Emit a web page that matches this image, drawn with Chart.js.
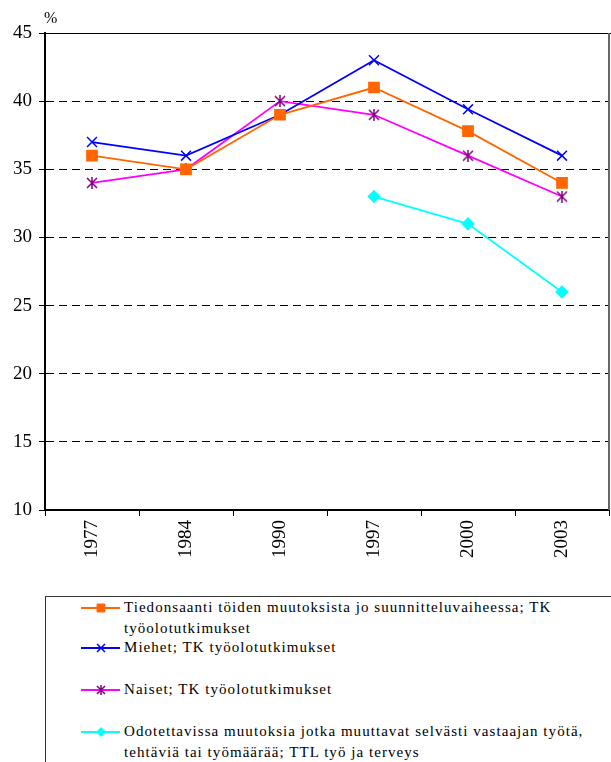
<!DOCTYPE html>
<html>
<head>
<meta charset="utf-8">
<script src="https://cdn.jsdelivr.net/npm/chart.js@4/dist/chart.umd.min.js"></script>
<style>
  body { margin: 0; background: #fff; }
  #wrap { position: relative; width: 611px; height: 762px; overflow: hidden; font-family: 'Liberation Serif', serif; }
  #kuva { position: absolute; left: 0; top: 0; }
  #yksikko { position: absolute; left: 44px; top: 9px; font-family: 'Liberation Serif', serif; font-size: 16px; }
  #selite { position: absolute; left: 45px; top: 596px; width: 580px; height: 200px; border: 1px solid #333; box-sizing: border-box; }
  .rivi { position: absolute; left: 35px; font-family: 'Liberation Serif', serif; font-size: 15px; line-height: 21px; letter-spacing: 1.05px; color: #000; }
  .rivi canvas { position: absolute; left: 0; top: 4px; }
  .rivi span { display: block; margin-left: 43px; white-space: nowrap; }
</style>
</head>
<body>
<div id="wrap">
  <canvas id="kuva" width="611" height="580"></canvas>
  <div id="yksikko">%</div>
  <div id="selite"></div>
</div>
<script>
var vuodet = ['1977', '1984', '1990', '1997', '2000', '2003'];
var tiedonsaanti = [36, 35, 39, 41, 37.8, 34];
var miehet = [37, 36, 39, 43, 39.4, 36];
var naiset = [34, 35, 40, 39, 36, 33];
var odotettavissa = [null, null, null, 33, 31, 26];

var sarjaNimet = [
    'Tiedonsaanti töiden muutoksista jo suunnitteluvaiheessa; TK<br>työolotutkimukset',
    'Miehet; TK työolotutkimukset',
    'Naiset; TK työolotutkimukset',
    'Odotettavissa muutoksia jotka muuttavat selvästi vastaajan työtä,<br>tehtäviä tai työmäärää; TTL työ ja terveys'
];

// tähtimerkki (x + pystyviiva) naisten sarjalle
function tahti(koko) {
    var c = document.createElement('canvas');
    c.width = koko; c.height = koko;
    var g = c.getContext('2d');
    g.strokeStyle = '#800080';
    g.lineWidth = 1.5;
    var m = koko - 1;
    g.beginPath();
    g.moveTo(1, 1); g.lineTo(m, m);
    g.moveTo(m, 1); g.lineTo(1, m);
    g.moveTo(koko / 2, 0); g.lineTo(koko / 2, koko);
    g.stroke();
    return c;
}

var sarjat = [
    { label: 'Tiedonsaanti', data: tiedonsaanti, borderColor: '#FF6600', backgroundColor: '#FF6600', pointStyle: 'rect', pointRadius: 7, pointBorderColor: '#FF6600' },
    { label: 'Miehet', data: miehet, borderColor: '#0000FF', backgroundColor: '#0000FF', pointStyle: 'crossRot', pointRadius: 7, pointBorderWidth: 1.5, pointBorderColor: '#0000FF' },
    { label: 'Naiset', data: naiset, borderColor: '#FF00FF', backgroundColor: '#800080', pointStyle: tahti(12), pointRadius: 6, pointBorderColor: '#800080' },
    { label: 'Odotettavissa', data: odotettavissa, borderColor: '#00FFFF', backgroundColor: '#00FFFF', pointStyle: 'rectRot', pointRadius: 5.5, pointBorderColor: '#00FFFF' }
];

sarjat.forEach(function (s) {
    s.borderWidth = 1.8;
    s.pointBackgroundColor = s.backgroundColor;
    s.pointHoverRadius = s.pointRadius;
    s.tension = 0;
    s.spanGaps = false;
});

// ylä- ja oikea reunaviiva
var reunat = {
    id: 'reunat',
    beforeDatasetsDraw: function (chart) {
        var a = chart.chartArea, ctx = chart.ctx;
        ctx.save();
        ctx.lineWidth = 1;
        ctx.strokeStyle = '#000';
        ctx.beginPath();
        ctx.moveTo(a.left, a.top + 0.5);
        ctx.lineTo(611, a.top + 0.5);
        ctx.stroke();
        ctx.strokeStyle = '#666';
        ctx.lineWidth = 2;
        ctx.beginPath();
        ctx.moveTo(a.right, a.top);
        ctx.lineTo(a.right, a.bottom);
        ctx.stroke();
        ctx.restore();
    }
};

new Chart(document.getElementById('kuva'), {
    type: 'line',
    data: { labels: vuodet, datasets: sarjat },
    plugins: [reunat],
    options: {
        responsive: false,
        animation: false,
        devicePixelRatio: 1,
        layout: { autoPadding: false, padding: { top: 33, right: 2, left: 0, bottom: 0 } },
        plugins: { legend: { display: false }, tooltip: { enabled: false } },
        scales: {
            y: {
                min: 10, max: 45,
                ticks: { stepSize: 5, color: '#000', padding: 7, font: { family: 'Liberation Serif', size: 19 } },
                grid: { color: '#000', lineWidth: 1, tickLength: 6, tickColor: '#000', tickBorderDash: [] },
                border: { color: '#000', width: 2, dash: [8, 5] },
                afterFit: function (s) { s.width = 45; s.paddingTop = 0; s.paddingBottom = 0; }
            },
            x: {
                offset: true,
                ticks: { color: '#000', minRotation: 90, maxRotation: 90, padding: 4, font: { family: 'Liberation Serif', size: 19 } },
                grid: { offset: true, drawOnChartArea: false, tickLength: 6, color: '#000', tickColor: '#000' },
                border: { color: '#000', width: 2 },
                afterFit: function (s) { s.height = 70; s.paddingLeft = 0; s.paddingRight = 0; }
            }
        }
    }
});

// selite
var rivitY = [0, 40, 82, 124];
var selite = document.getElementById('selite');
sarjat.forEach(function (s, i) {
    var rivi = document.createElement('div');
    rivi.className = 'rivi';
    rivi.style.top = rivitY[i] + 'px';
    var c = document.createElement('canvas');
    c.width = 39; c.height = 14;
    var g = c.getContext('2d');
    g.strokeStyle = s.borderColor;
    g.lineWidth = 1.8;
    g.beginPath(); g.moveTo(0, 7); g.lineTo(39, 7); g.stroke();
    g.fillStyle = s.backgroundColor;
    g.strokeStyle = s.pointBorderColor;
    g.lineWidth = s.pointBorderWidth || 1;
    var tyyli = typeof s.pointStyle === 'string' ? s.pointStyle : tahti(10);
    Chart.helpers.drawPoint(g, { pointStyle: tyyli, radius: s.pointRadius * 0.8, rotation: 0, borderWidth: g.lineWidth }, 20, 7);
    var t = document.createElement('span');
    t.innerHTML = sarjaNimet[i];
    rivi.appendChild(c);
    rivi.appendChild(t);
    selite.appendChild(rivi);
});
</script>
</body>
</html>
